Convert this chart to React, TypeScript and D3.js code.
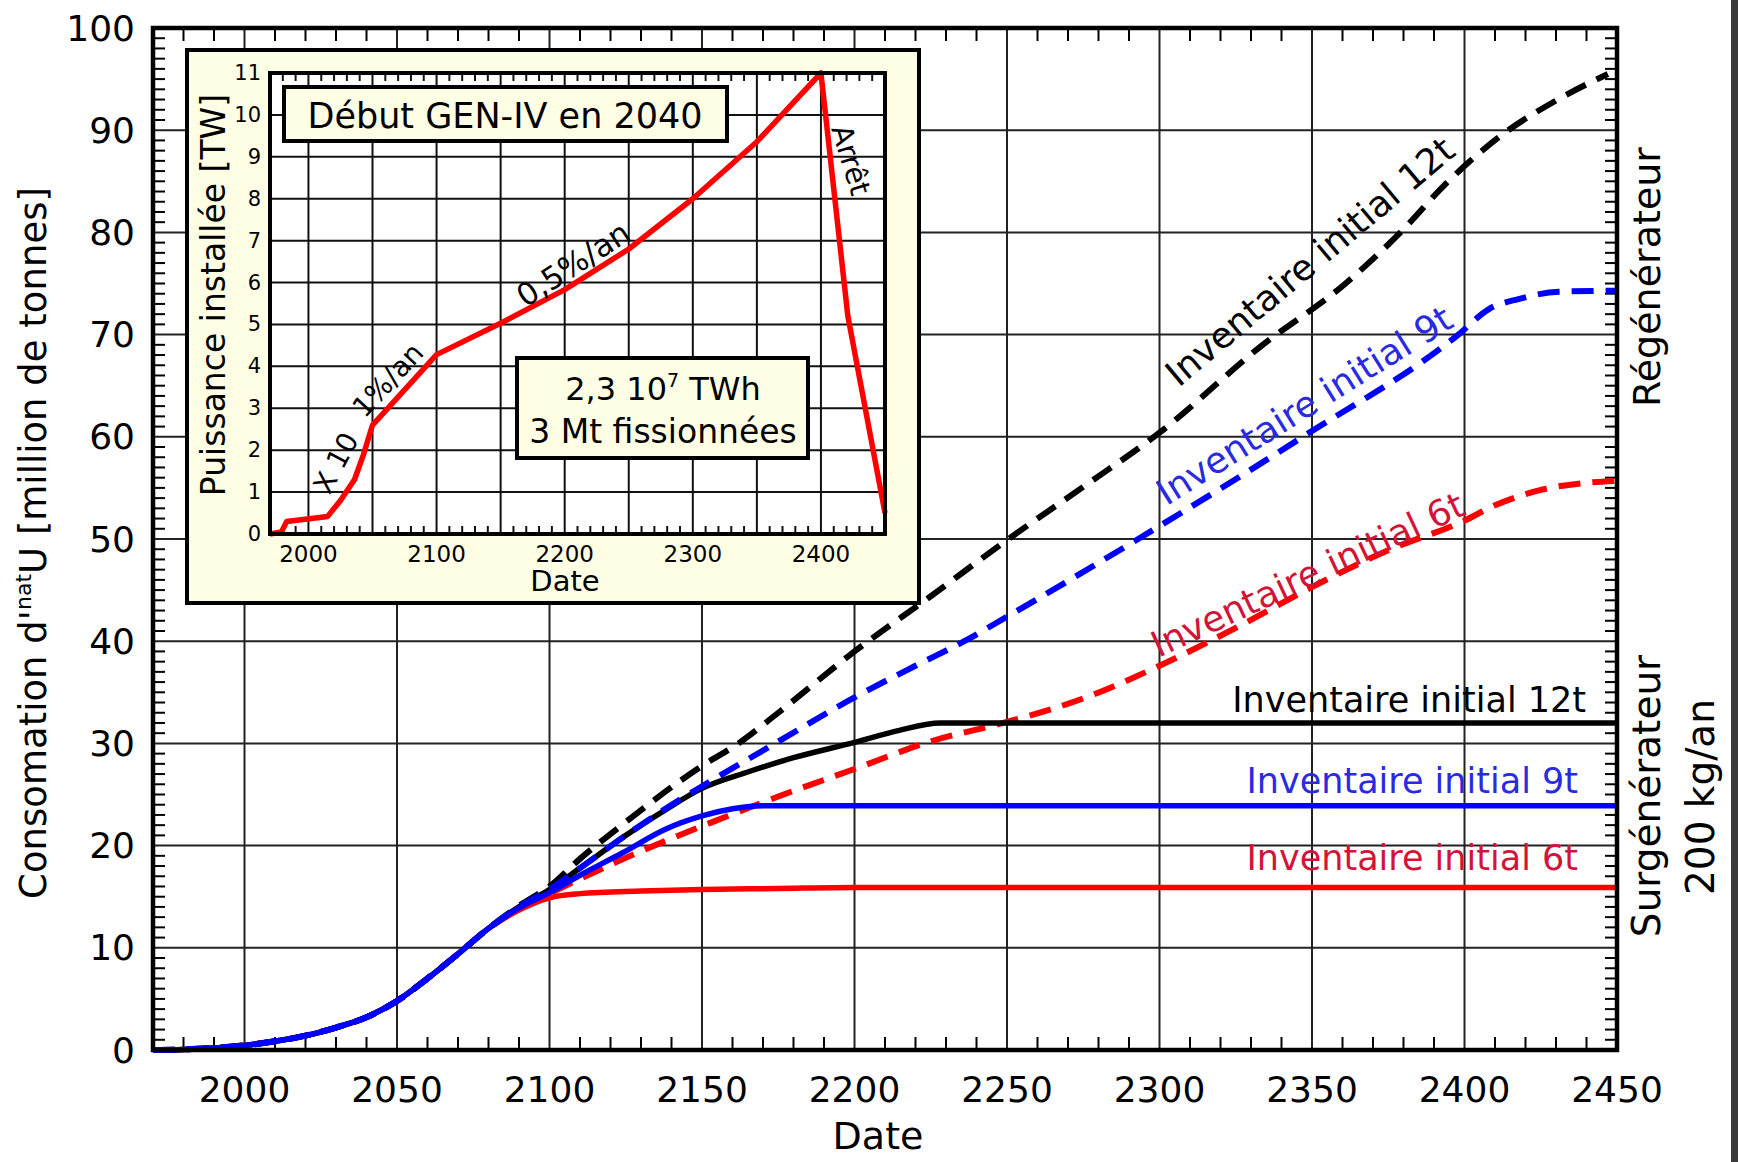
import React from 'react';
import * as d3 from 'd3';

type Pt = [number, number];

// common start of every scenario (million t of natural U)
const rampShared: Pt[] = [
  [1970, 0], [1980, 0.05], [1990, 0.2], [2000, 0.45], [2010, 0.85], [2020, 1.4],
  [2030, 2.2], [2040, 3.2], [2050, 4.8], [2060, 7.0], [2070, 9.4], [2080, 11.9]
];

// Surgénérateur (solid)
const breeder6t: Pt[] = [
  [2090, 13.7], [2100, 14.9], [2110, 15.3], [2130, 15.55], [2150, 15.7], [2175, 15.8],
  [2200, 15.9], [2450, 15.9]
];
const breeder9t: Pt[] = [
  [2090, 13.9], [2100, 15.4], [2110, 17.1], [2124, 19.3], [2138, 21.6], [2150, 22.9],
  [2160, 23.6], [2170, 23.9], [2450, 23.9]
];
const breeder12t: Pt[] = [
  [2090, 14.0], [2100, 15.7], [2110, 17.8], [2125, 21.0], [2138, 23.5], [2150, 25.6],
  [2165, 27.2], [2180, 28.6], [2200, 30.1], [2215, 31.3], [2228, 32.0], [2450, 32.0]
];

// Régénérateur (dashed)
const regen6t: Pt[] = [
  [2090, 13.8], [2100, 15.3], [2125, 18.8], [2150, 21.9], [2175, 24.8], [2200, 27.5],
  [2225, 30.2], [2250, 32.1], [2275, 34.4], [2300, 37.6], [2325, 41.3], [2350, 45.3],
  [2375, 48.9], [2400, 51.8], [2410, 53.3], [2425, 54.8], [2440, 55.5], [2450, 55.7]
];
const regen9t: Pt[] = [
  [2090, 14.0], [2100, 15.7], [2110, 17.8], [2125, 21.0], [2138, 23.6], [2150, 25.8],
  [2174, 30.0], [2200, 34.5], [2220, 37.6], [2236, 40.0], [2250, 42.4], [2293, 50.0],
  [2347, 60.0], [2398, 70.0], [2408, 72.5], [2418, 73.5], [2431, 74.2], [2450, 74.3]
];
const regen12t: Pt[] = [
  [2090, 14.1], [2100, 16.0], [2110, 18.7], [2125, 22.3], [2150, 27.8], [2162, 30.0],
  [2175, 33.0], [2200, 39.0], [2225, 44.4], [2250, 49.9], [2275, 55.1], [2300, 60.4],
  [2333, 68.8], [2361, 75.0], [2379, 80.0], [2394, 84.8], [2413, 89.7], [2430, 92.9],
  [2447, 95.5]
];

// inset: installed power (TW)
const insetPower: Pt[] = [
  [1970, 0], [1979, 0.05], [1983, 0.3], [2015, 0.42], [2025, 0.8], [2036, 1.3],
  [2043, 1.9], [2050, 2.6], [2100, 4.28], [2150, 5.03], [2200, 5.83], [2250, 6.8],
  [2300, 8.0], [2350, 9.36], [2400, 11.0], [2421, 5.2], [2450, 0.5]
];

const mainYearTicks = [2000, 2050, 2100, 2150, 2200, 2250, 2300, 2350, 2400, 2450];
const mainValueTicks = [0, 10, 20, 30, 40, 50, 60, 70, 80, 90, 100];
const insetYearLabels = [2000, 2100, 2200, 2300, 2400];
const insetYearGrid = [2000, 2050, 2100, 2150, 2200, 2250, 2300, 2350, 2400];
const insetValueTicks = [0, 1, 2, 3, 4, 5, 6, 7, 8, 9, 10, 11];

const FONT = '"DejaVu Sans", "Noto Sans", sans-serif';
const CREAM = '#FEFEE4';
const BLUE = '#0000FF';
const RED = '#FF0000';

export default function App() {
  const L = 153, R = 1617, T = 28, B = 1050;
  const x = d3.scaleLinear().domain([1970, 2450]).range([L, R]);
  const y = d3.scaleLinear().domain([0, 100]).range([B, T]);
  const line = d3.line<Pt>().x(d => x(d[0])).y(d => y(d[1])).curve(d3.curveMonotoneX);

  const minorX = x.ticks(48).filter(v => v % 50 !== 0);
  const minorY = y.ticks(100).filter(v => v % 10 !== 0);

  const series = [
    { data: breeder6t, color: RED, dash: null },
    { data: regen6t, color: RED, dash: '22 12' },
    { data: breeder12t, color: '#000', dash: null },
    { data: regen12t, color: '#000', dash: '22 12' },
    { data: regen9t, color: BLUE, dash: '22 12' },
    { data: breeder9t, color: BLUE, dash: null }
  ];

  // inset geometry
  const iL = 270, iR = 885, iT = 73, iB = 534;
  const ix = d3.scaleLinear().domain([1970, 2450]).range([iL, iR]);
  const iy = d3.scaleLinear().domain([0, 11]).range([iB, iT]);
  const iline = d3.line<Pt>().x(d => ix(d[0])).y(d => iy(d[1]));
  const iMinorX = ix.ticks(48).filter(v => v % 50 !== 0);

  return (
    <svg width={1738} height={1162} style={{ position: 'absolute', left: 0, top: 0 }}
      fontFamily={FONT}>
      <rect width={1738} height={1162} fill="#fff" />

      {/* main grid */}
      <g stroke="#222" strokeWidth={2}>
        {mainYearTicks.filter(v => v < 2450).map(v => (
          <line key={'gx' + v} x1={x(v)} x2={x(v)} y1={T} y2={B} />
        ))}
        {mainValueTicks.filter(v => v > 0 && v < 100).map(v => (
          <line key={'gy' + v} x1={L} x2={R} y1={y(v)} y2={y(v)} />
        ))}
      </g>
      {/* minor ticks */}
      <g stroke="#000" strokeWidth={2}>
        {minorX.map(v => (
          <g key={'mx' + v}>
            <line x1={x(v)} x2={x(v)} y1={B} y2={B - 13} />
            <line x1={x(v)} x2={x(v)} y1={T} y2={T + 13} />
          </g>
        ))}
        {minorY.map(v => (
          <g key={'my' + v}>
            <line x1={L} x2={L + 12} y1={y(v)} y2={y(v)} />
            <line x1={R} x2={R - 12} y1={y(v)} y2={y(v)} />
          </g>
        ))}
      </g>

      {/* curves */}
      {series.map((s, i) => (
        <path key={i} d={line([...rampShared, ...s.data]) || ''} fill="none" stroke={s.color}
          strokeWidth={s.dash ? 6 : 5.5} strokeDasharray={s.dash || undefined}
          strokeLinejoin="round" />
      ))}

      <rect x={L} y={T} width={R - L} height={B - T} fill="none" stroke="#000" strokeWidth={4.5} />

      {/* axis labels */}
      <g fontSize={36} fill="#000">
        {mainValueTicks.map(v => (
          <text key={'ty' + v} x={L - 18} y={y(v)} textAnchor="end" dominantBaseline="central">{v}</text>
        ))}
        {mainYearTicks.map(v => (
          <text key={'tx' + v} x={x(v)} y={1102} textAnchor="middle">{v}</text>
        ))}
      </g>
      <text x={878} y={1149} fontSize={38} textAnchor="middle">Date</text>
      <text transform="translate(46,543) rotate(-90)" fontSize={37} textAnchor="middle">
        Consomation d'<tspan fontSize={22} dy={-15}>nat</tspan><tspan dy={15}>U [million de tonnes]</tspan>
      </text>
      <text transform="translate(1660,277) rotate(-90)" fontSize={38} textAnchor="middle">Régénérateur</text>
      <text transform="translate(1660,796) rotate(-90)" fontSize={39} textAnchor="middle">Surgénérateur</text>
      <text transform="translate(1714,797) rotate(-90)" fontSize={39} textAnchor="middle">200 kg/an</text>

      {/* curve labels */}
      <g fontSize={35} textAnchor="end">
        <text x={1586} y={712} fill="#000">Inventaire initial 12t</text>
        <text x={1578} y={793} fill="#2a2ae0">Inventaire initial 9t</text>
        <text x={1578} y={870} fill="#d2143a">Inventaire initial 6t</text>
      </g>
      <g fontSize={36} textAnchor="middle">
        <text transform="translate(1318,271) rotate(-40)" fill="#000">Inventaire initial 12t</text>
        <text transform="translate(1311,416) rotate(-32)" fill="#2a2ae0">Inventaire initial 9t</text>
        <text transform="translate(1313,586) rotate(-25)" fill="#d2143a">Inventaire initial 6t</text>
      </g>

      {/* inset */}
      <rect x={187} y={50} width={732} height={553} fill={CREAM} stroke="#000" strokeWidth={4} />
      <rect x={iL} y={iT} width={iR - iL} height={iB - iT} fill="#fff" />
      <g stroke="#111" strokeWidth={2}>
        {insetYearGrid.map(v => (
          <line key={'igx' + v} x1={ix(v)} x2={ix(v)} y1={iT} y2={iB} />
        ))}
        {insetValueTicks.filter(v => v > 0 && v < 11).map(v => (
          <line key={'igy' + v} x1={iL} x2={iR} y1={iy(v)} y2={iy(v)} />
        ))}
        {iMinorX.map(v => (
          <g key={'imx' + v}>
            <line x1={ix(v)} x2={ix(v)} y1={iB} y2={iB - 8} />
            <line x1={ix(v)} x2={ix(v)} y1={iT} y2={iT + 8} />
          </g>
        ))}
      </g>
      <rect x={284} y={87} width={443} height={54} fill={CREAM} stroke="#000" strokeWidth={4} />
      <text x={505} y={128} fontSize={35} textAnchor="middle">Début GEN-IV en 2040</text>
      <rect x={517} y={358} width={291} height={100} fill={CREAM} stroke="#000" strokeWidth={4} />
      <text x={663} y={400} fontSize={32} textAnchor="middle">
        2,3 10<tspan fontSize={19} dy={-13}>7</tspan><tspan dy={13}> TWh</tspan>
      </text>
      <text x={663} y={443} fontSize={33} textAnchor="middle">3 Mt fissionnées</text>

      <path d={iline(insetPower) || ''} fill="none" stroke={RED} strokeWidth={5.5} strokeLinejoin="round" />
      <rect x={iL} y={iT} width={iR - iL} height={iB - iT} fill="none" stroke="#000" strokeWidth={4} />

      <g textAnchor="middle" dominantBaseline="central">
        <text transform="translate(336,463) rotate(-62)" fontSize={28}>X 10</text>
        <text transform="translate(388,380) rotate(-47)" fontSize={28}>1%/an</text>
        <text transform="translate(573,264) rotate(-33)" fontSize={31}>0,5%/an</text>
        <text transform="translate(851,160) rotate(73)" fontSize={29}>Arrêt</text>
      </g>

      <g fontSize={21}>
        {insetValueTicks.map(v => (
          <text key={'ity' + v} x={iL - 9} y={iy(v)} textAnchor="end" dominantBaseline="central">{v}</text>
        ))}
      </g>
      <g fontSize={23}>
        {insetYearLabels.map(v => (
          <text key={'itx' + v} x={ix(v)} y={562} textAnchor="middle">{v}</text>
        ))}
      </g>
      <text x={565} y={591} fontSize={29} textAnchor="middle">Date</text>
      <text transform="translate(225,295) rotate(-90)" fontSize={33} textAnchor="middle">Puissance installée [TW]</text>

      <rect x={1731} y={0} width={7} height={1162} fill="#3a3a3a" />
    </svg>
  );
}
